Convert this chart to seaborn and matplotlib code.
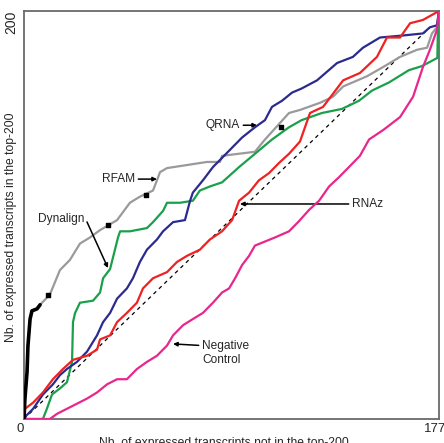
import seaborn as sns
import pandas as pd
import numpy as np
import matplotlib
import matplotlib.pyplot as plt

matplotlib.use('Agg')

sns.set_theme(style="white")
plt.rcParams['font.family'] = ['Liberation Sans', 'DejaVu Sans']

# curve data
rfam_x = [0, 4, 13, 17, 26, 34, 56, 69, 111, 154, 197, 240, 283, 326, 399, 454, 497,
          553, 570, 583, 613, 699, 784, 840, 849, 990, 1033, 1136, 1183, 1269, 1325,
          1368, 1470, 1539, 1612, 1685, 1728, 1749, 1770, 1779]
rfam_y = [0, 10, 23, 36, 49, 53, 54, 56, 61, 73, 78, 86, 89, 92.6, 97.5, 106, 109,
          112, 117, 121, 123, 124.5, 126, 126, 129, 131, 137, 150, 151.5, 155, 158,
          163, 168, 172.5, 177.5, 181, 182, 189, 192, 200]

dyn_x = [0, 81, 98, 120, 154, 184, 206, 210, 219, 240, 296, 326, 339, 369, 403, 412,
         454, 527, 553, 596, 613, 669, 724, 754, 797, 849, 922, 990, 1063, 1136, 1190,
         1277, 1363, 1436, 1492, 1565, 1650, 1706, 1772, 1775, 1779]
dyn_y = [0, 0, 5, 12, 15, 18, 28, 47.5, 52, 57, 58, 62, 69, 73.5, 89, 92,
         92, 93.6, 96.5, 102, 106, 106, 107, 112, 114, 116, 123.5, 130, 137, 143, 146.5,
         150, 152, 156, 161, 165, 171, 173, 177, 195, 200]

qrna_x = [0, 4, 39, 81, 124, 154, 184, 227, 270, 313, 339, 369, 399, 441, 467, 497, 527,
          570, 596, 639, 690, 712, 724, 767, 810, 849, 892, 935, 990, 1033, 1063, 1106,
          1149, 1190, 1256, 1342, 1410, 1453, 1526, 1625, 1710, 1740, 1770, 1779]
qrna_y = [0, 1, 5, 12, 17, 21.5, 24.5, 28, 33, 41, 47.5, 52, 59, 64, 69, 77, 83,
          88, 92, 96.5, 97.5, 107, 111, 117, 123.5, 128, 133, 138, 143, 146.5, 153, 156,
          160, 162, 166, 174.5, 177.5, 182, 187, 188, 189, 192, 193, 200]

rnaz_x = [0, 4, 39, 81, 124, 167, 210, 270, 313, 326, 369, 399, 441, 484, 510, 553, 613,
          656, 699, 754, 797, 849, 892, 922, 965, 1007, 1050, 1093, 1136, 1183, 1226,
          1282, 1368, 1440, 1513, 1556, 1612, 1655, 1710, 1779]
rnaz_y = [0, 5, 8, 13, 19.5, 24.5, 29, 31, 34, 39, 41, 47.5, 52, 57, 64, 69, 72,
          77, 80, 83, 88, 92, 97.5, 107, 111, 117, 120.5, 125.5, 130, 136, 150,
          153, 166, 169.6, 177.5, 187, 187, 194, 195.6, 200]

neg_x = [0, 111, 141, 184, 227, 270, 313, 356, 399, 441, 484, 527, 570, 613, 639, 682,
         724, 767, 810, 849, 879, 905, 935, 965, 990, 1033, 1076, 1136, 1179, 1222, 1265,
         1308, 1350, 1393, 1440, 1479, 1539, 1578, 1612, 1668, 1710, 1740, 1770, 1779]
neg_y = [0, 0, 2.5, 5, 7.5, 10, 13, 17, 19.5, 19.5, 24.5, 28, 31, 36, 41, 46,
         49, 52, 57, 62, 64, 69, 75.5, 80, 85, 87, 89, 92, 97, 102.5, 107,
         114, 118.5, 123.5, 129, 137, 141.6, 145, 148, 158, 172.5, 181, 190.7, 200]

diag_x = [0, 1740]
diag_y = [0, 192]

# black highlighted bits on the RFAM curve
black_x = rfam_x[:8]
black_y = rfam_y[:8]
dot_x = [103, 360, 525, 1100]
dot_y = [61, 95, 110, 143]

x_ticks = [0, 1779]
x_ticklabels = ['0', '1779']
y_ticks = [200]
y_ticklabels = ['200']

series = {'RFAM': (rfam_x, rfam_y), 'Dynalign': (dyn_x, dyn_y), 'QRNA': (qrna_x, qrna_y),
          'RNAz': (rnaz_x, rnaz_y), 'Negative Control': (neg_x, neg_y)}
colors = {'RFAM': '#9a9a9a', 'Dynalign': '#1aa04b', 'QRNA': '#2b2b8f',
          'RNAz': '#ee2222', 'Negative Control': '#e8278c'}

df = pd.concat([pd.DataFrame({'x': xs, 'y': ys, 'method': name})
                for name, (xs, ys) in series.items()], ignore_index=True)

fig = plt.figure(figsize=(4.44, 4.43), dpi=100)
ax = fig.add_axes([24/444, 24/443, 415/444, 408/443])

ax.plot(diag_x, diag_y, color='black', lw=0.9, dashes=(3, 3), zorder=1)
for i, name in enumerate(series):
    sns.lineplot(data=df[df['method'] == name], x='x', y='y', color=colors[name],
                 sort=False, estimator=None, lw=1.6, ax=ax, zorder=2 + i)
sns.lineplot(x=black_x, y=black_y, color='black', lw=2.6, sort=False,
             estimator=None, ax=ax, zorder=8)
ax.scatter(dot_x, dot_y, color='black', s=8, marker='s', zorder=8)

ax.set_xlim(0, 1779)
ax.set_ylim(0, 200)
ax.set_xticks(x_ticks)
ax.set_xticklabels(x_ticklabels, fontsize=9.5)
ax.set_yticks(y_ticks)
ax.set_yticklabels(y_ticklabels, fontsize=10, rotation=90, va='top', ha='right')
ax.get_xticklabels()[0].set_ha('right')
ax.tick_params(axis='x', length=0, pad=3)
ax.tick_params(axis='y', length=0, pad=4)

ax.set_xlabel('Nb. of expressed transcripts not in the top-200', fontsize=8.7)
ax.set_ylabel('Nb. of expressed transcripts in the top-200', fontsize=8.7)
ax.xaxis.set_label_coords(0.482, -0.043)
ax.yaxis.set_label_coords(-0.016, 0.47)

for s in ax.spines.values():
    s.set_color('#6a6a6a')
    s.set_linewidth(1.3)

arrow = dict(arrowstyle='-|>', color='black', lw=1.1, mutation_scale=6,
             shrinkA=0, shrinkB=0)
fs = 8.6
ax.annotate('RFAM', xy=(570, 117.6), xytext=(476, 117.6), fontsize=fs,
            ha='right', va='center', arrowprops=arrow)
ax.annotate('QRNA', xy=(999, 144), xytext=(926, 144), fontsize=fs,
            ha='right', va='center', arrowprops=arrow)
ax.annotate('RNAz', xy=(926, 105.4), xytext=(1406, 105.4), fontsize=fs,
            ha='left', va='center', arrowprops=arrow)
ax.annotate('Negative\nControl', xy=(639, 36.8), xytext=(763, 32.4), fontsize=fs,
            ha='left', va='center', linespacing=1.25,
            arrowprops=dict(arrow, relpos=(0, 0.78)))
ax.text(60, 98, 'Dynalign', fontsize=fs, ha='left', va='center')
ax.annotate('', xy=(360, 74), xytext=(270, 96.6), arrowprops=arrow)

fig.savefig('out.png', dpi=100)
